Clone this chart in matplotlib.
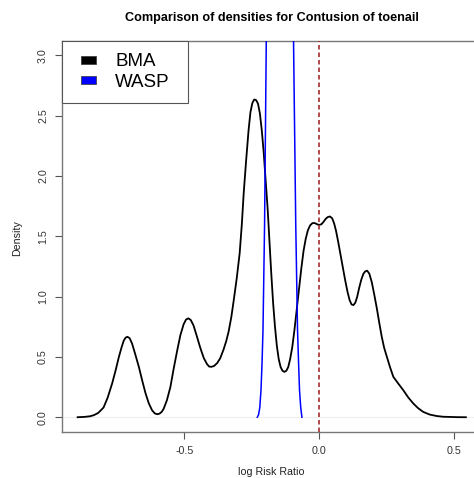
import matplotlib
matplotlib.use("Agg")
import matplotlib.pyplot as plt
from matplotlib.lines import Line2D

plt.rcParams['font.family'] = ['Liberation Sans', 'DejaVu Sans']

# density of the BMA posterior
bma_x = [-0.896, -0.870, -0.850, -0.836, -0.820, -0.800, -0.785, -0.768, -0.755, -0.743,
         -0.733, -0.725, -0.718, -0.711, -0.703, -0.694, -0.682, -0.669, -0.656, -0.644,
         -0.632, -0.620, -0.610, -0.601, -0.592, -0.584, -0.577, -0.565, -0.552, -0.540,
         -0.527, -0.515, -0.503, -0.494, -0.485, -0.476, -0.466, -0.455, -0.441, -0.428,
         -0.416, -0.408, -0.400, -0.390, -0.378, -0.367, -0.355, -0.345, -0.336, -0.326,
         -0.317, -0.306, -0.295, -0.287, -0.280, -0.271, -0.262, -0.255, -0.248, -0.241,
         -0.234, -0.227, -0.220, -0.213, -0.206, -0.198, -0.191, -0.185, -0.178, -0.171,
         -0.164, -0.157, -0.150, -0.143, -0.136, -0.129, -0.122, -0.115, -0.108, -0.100,
         -0.092, -0.083, -0.074, -0.066, -0.058, -0.050, -0.042, -0.034, -0.025, -0.016,
         -0.008, 0.000, 0.008, 0.016, 0.024, 0.032, 0.040, 0.048, 0.055, 0.062,
         0.070, 0.078, 0.087, 0.096, 0.105, 0.113, 0.120, 0.127, 0.134, 0.141,
         0.148, 0.156, 0.164, 0.171, 0.178, 0.186, 0.195, 0.204, 0.214, 0.223,
         0.232, 0.241, 0.251, 0.262, 0.275, 0.293, 0.312, 0.330, 0.349, 0.367,
         0.386, 0.410, 0.436, 0.460, 0.485, 0.515, 0.544]
bma_y = [0.000, 0.003, 0.008, 0.017, 0.035, 0.080, 0.160, 0.280, 0.390, 0.500,
         0.580, 0.635, 0.660, 0.667, 0.655, 0.610, 0.520, 0.418, 0.300, 0.197,
         0.115, 0.058, 0.032, 0.025, 0.030, 0.045, 0.070, 0.140, 0.250, 0.400,
         0.550, 0.680, 0.770, 0.810, 0.820, 0.805, 0.760, 0.680, 0.575, 0.490,
         0.440, 0.420, 0.418, 0.425, 0.450, 0.490, 0.560, 0.630, 0.710, 0.830,
         0.970, 1.150, 1.360, 1.600, 1.860, 2.130, 2.380, 2.530, 2.605, 2.635,
         2.630, 2.600, 2.520, 2.380, 2.200, 1.950, 1.720, 1.480, 1.200, 0.950,
         0.750, 0.590, 0.480, 0.415, 0.385, 0.376, 0.385, 0.415, 0.480, 0.580,
         0.720, 0.900, 1.080, 1.240, 1.380, 1.480, 1.550, 1.590, 1.610, 1.610,
         1.600, 1.595, 1.600, 1.620, 1.645, 1.660, 1.665, 1.650, 1.610, 1.550,
         1.460, 1.360, 1.250, 1.140, 1.040, 0.970, 0.935, 0.930, 0.950, 1.000,
         1.070, 1.140, 1.190, 1.210, 1.215, 1.190, 1.120, 1.020, 0.900, 0.780,
         0.667, 0.575, 0.500, 0.420, 0.335, 0.280, 0.224, 0.165, 0.114, 0.075,
         0.044, 0.022, 0.010, 0.004, 0.002, 0.0005, 0.000]

# WASP density, its peak goes far above the plotted range
wasp_x = [-0.2296, -0.2250, -0.2204, -0.2159, -0.2120, -0.2085, -0.2026, -0.1963, -0.190,
          -0.145, -0.100, -0.0952, -0.087, -0.0804, -0.0765, -0.073, -0.0685, -0.0641]
wasp_y = [0.0, 0.02, 0.08, 0.224, 0.45, 0.723, 1.6, 3.12, 4.5,
          6.0, 4.5, 3.12, 1.6, 0.723, 0.45, 0.224, 0.08, 0.0]

ref_value = 0.0
labels = ['BMA', 'WASP']
colors = ['black', 'blue']
x_ticks = [-0.5, 0.0, 0.5]
y_ticks = [0.0, 0.5, 1.0, 1.5, 2.0, 2.5, 3.0]

W, H = 474, 478
fig = plt.figure(figsize=(W / 100, H / 100), dpi=100)
ax = fig.add_axes([62 / W, 1 - 431.7 / H, (481.5 - 62) / W, (431.7 - 41) / H])

ax.axhline(0, color='#eeeeee', lw=0.8, zorder=1)
ax.plot(bma_x, bma_y, color=colors[0], lw=1.3, zorder=3, solid_joinstyle='round')
ax.plot(wasp_x, wasp_y, color=colors[1], lw=1.1, zorder=3)
ax.axvline(ref_value, color='#a52a2a', lw=1.2, dashes=(2.7, 1.8), zorder=4)

ax.set_xlim(-0.954, 0.602)
ax.set_ylim(-0.12, 3.12)
ax.set_xticks(x_ticks)
ax.set_xticklabels(['-0.5', '0.0', '0.5'])
ax.set_yticks(y_ticks)
ax.set_yticklabels([f'{v:.1f}' for v in y_ticks], rotation=90, va='center', ha='right')

for s in ax.spines.values():
    s.set_color('#777777')
    s.set_linewidth(1.0)
ax.tick_params(length=5, width=0.8, color='#555555', labelcolor='#333333', labelsize=7.7, pad=5)

# legend with small rectangles like R's fill boxes
box = [(-1, -0.56), (1, -0.56), (1, 0.56), (-1, 0.56), (-1, -0.56)]
handles = [Line2D([], [], ls='none', marker=box, markersize=10.8, markerfacecolor=c,
                  markeredgecolor='#333333', markeredgewidth=0.5) for c in colors]
leg = ax.legend(handles, labels, loc='upper left', bbox_to_anchor=(0, 0, 126 / 419.5, 1),
                mode='expand', borderaxespad=0, fancybox=False, edgecolor='#555555',
                framealpha=1, fontsize=13.5, handlelength=1.45, handletextpad=0.72,
                labelspacing=0.16, borderpad=0.66)
leg.get_frame().set_linewidth(0.8)

cx = (62 + 481.5) / 2 / W
fig.text(cx, 1 - 18 / H, 'Comparison of densities for Contusion of toenail',
         ha='center', va='center', fontsize=9.1, fontweight='bold')
fig.text(271 / W, 1 - 471.7 / H, 'log Risk Ratio', ha='center', va='center',
         fontsize=7.7, color='#222222')
fig.text(17.3 / W, 1 - 238.3 / H, 'Density', ha='center', va='center', rotation=90,
         fontsize=7.7, color='#222222')

fig.savefig('out.png', dpi=100)
